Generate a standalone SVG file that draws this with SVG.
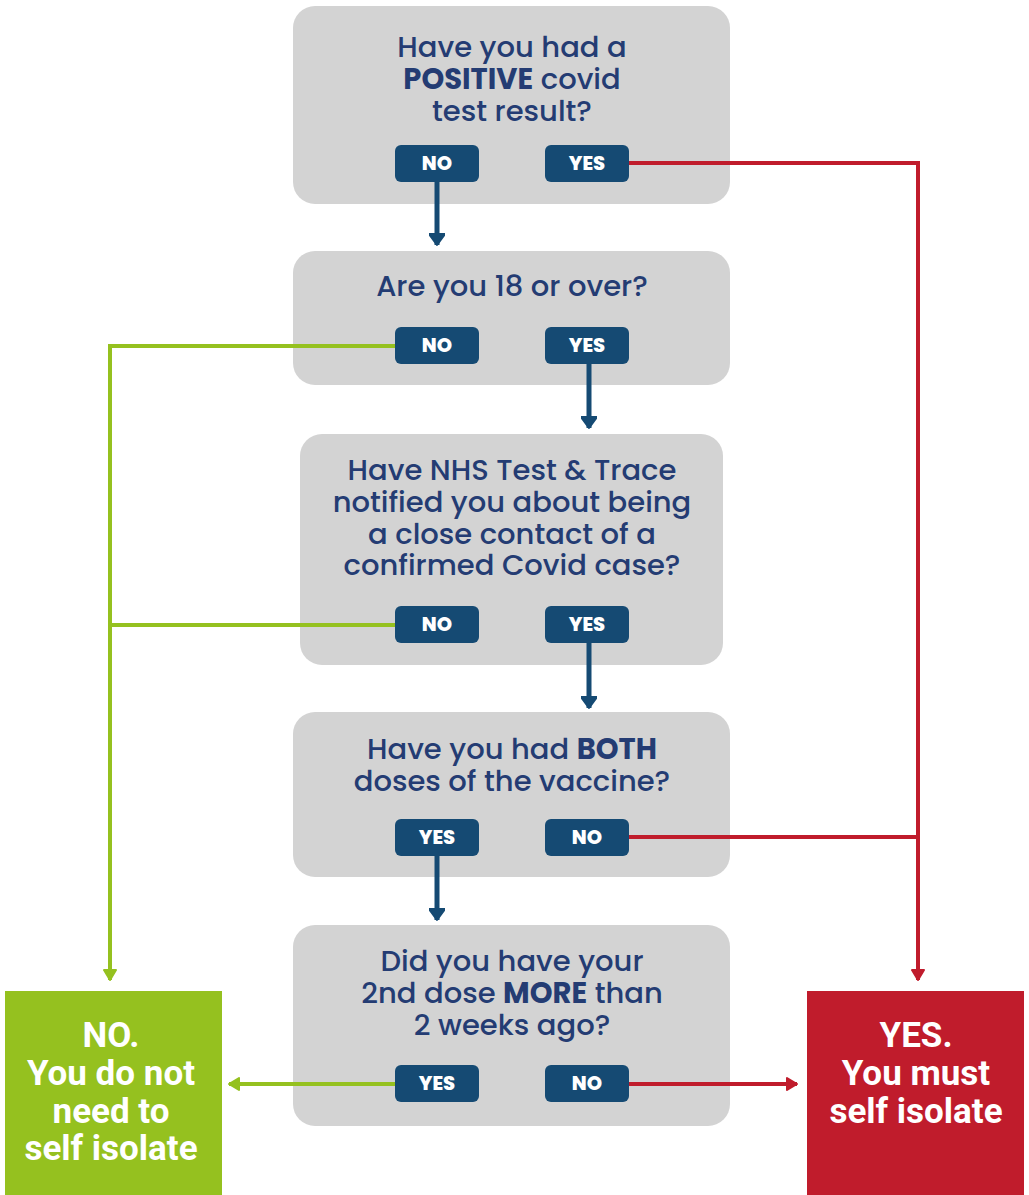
<svg xmlns="http://www.w3.org/2000/svg" width="1029" height="1195" viewBox="0 0 1029 1195">
<style>
.q{fill:#d3d3d3}
.b{fill:#154a73}
.qt{font-family:Poppins,"Noto Sans","Open Sans",sans-serif;font-size:29px;font-weight:500;fill:#243c73;text-anchor:middle}
.qt tspan.s{font-weight:bold}
.bt{font-family:Poppins,"Noto Sans","Open Sans",sans-serif;font-size:19.5px;font-weight:800;fill:#fff;text-anchor:middle}
.rt{font-family:Roboto,"DejaVu Sans",sans-serif;font-size:35px;font-weight:bold;fill:#fff;text-anchor:middle}
.lb{stroke:#154a73;stroke-width:5;fill:none}
.lr{stroke:#c01c2c;stroke-width:4;fill:none}
.lg{stroke:#95c11f;stroke-width:4;fill:none}
</style>
<defs>
<marker id="ab" markerUnits="userSpaceOnUse" markerWidth="20" markerHeight="16" refX="18" refY="8" orient="auto"><path d="M7,0 L18,8 L7,16 Z" fill="#154a73" stroke="#154a73" stroke-width="2" stroke-linejoin="round"/></marker>
<marker id="ar" markerUnits="userSpaceOnUse" markerWidth="20" markerHeight="14" refX="18" refY="7" orient="auto"><path d="M8,1 L18,7 L8,13 Z" fill="#c01c2c" stroke="#c01c2c" stroke-width="2" stroke-linejoin="round"/></marker>
<marker id="ag" markerUnits="userSpaceOnUse" markerWidth="20" markerHeight="14" refX="18" refY="7" orient="auto"><path d="M8,1 L18,7 L8,13 Z" fill="#95c11f" stroke="#95c11f" stroke-width="2" stroke-linejoin="round"/></marker>
</defs>
<rect width="1029" height="1195" fill="#fff"/>

<g id="q1">
<rect class="q" x="293" y="6" width="437" height="198" rx="22"/>
<text class="qt" x="512" y="57">Have you had a</text>
<text class="qt" x="512" y="89"><tspan class="s">POSITIVE</tspan> covid</text>
<text class="qt" x="512" y="121">test result?</text>
<rect class="b" x="395" y="145" width="84" height="37" rx="6"/><text class="bt" x="437" y="170">NO</text>
<rect class="b" x="545" y="145" width="84" height="37" rx="6"/><text class="bt" x="587" y="170">YES</text>
</g>

<g id="q2">
<rect class="q" x="293" y="251" width="437" height="134" rx="22"/>
<text class="qt" x="512" y="296">Are you 18 or over?</text>
<rect class="b" x="395" y="327" width="84" height="37" rx="6"/><text class="bt" x="437" y="352">NO</text>
<rect class="b" x="545" y="327" width="84" height="37" rx="6"/><text class="bt" x="587" y="352">YES</text>
</g>

<g id="q3">
<rect class="q" x="300" y="434" width="423" height="231" rx="22"/>
<text class="qt" x="512" y="480">Have NHS Test &amp; Trace</text>
<text class="qt" x="512" y="512">notified you about being</text>
<text class="qt" x="512" y="544">a close contact of a</text>
<text class="qt" x="512" y="575">confirmed Covid case?</text>
<rect class="b" x="395" y="606" width="84" height="37" rx="6"/><text class="bt" x="437" y="631">NO</text>
<rect class="b" x="545" y="606" width="84" height="37" rx="6"/><text class="bt" x="587" y="631">YES</text>
</g>

<g id="q4">
<rect class="q" x="293" y="712" width="437" height="165" rx="22"/>
<text class="qt" x="512" y="759">Have you had <tspan class="s">BOTH</tspan></text>
<text class="qt" x="512" y="791">doses of the vaccine?</text>
<rect class="b" x="395" y="819" width="84" height="37" rx="6"/><text class="bt" x="437" y="844">YES</text>
<rect class="b" x="545" y="819" width="84" height="37" rx="6"/><text class="bt" x="587" y="844">NO</text>
</g>

<g id="q5">
<rect class="q" x="293" y="925" width="437" height="201" rx="22"/>
<text class="qt" x="512" y="971">Did you have your</text>
<text class="qt" x="512" y="1003">2nd dose <tspan class="s">MORE</tspan> than</text>
<text class="qt" x="512" y="1035">2 weeks ago?</text>
<rect class="b" x="395" y="1065" width="84" height="37" rx="6"/><text class="bt" x="437" y="1090">YES</text>
<rect class="b" x="545" y="1065" width="84" height="37" rx="6"/><text class="bt" x="587" y="1090">NO</text>
</g>

<g id="no-result">
<rect x="5" y="991" width="217" height="204" fill="#95c11f"/>
<text class="rt" x="111" y="1047">NO.</text>
<text class="rt" x="111" y="1085">You do not</text>
<text class="rt" x="111" y="1123">need to</text>
<text class="rt" x="111" y="1160">self isolate</text>
</g>

<g id="yes-result">
<rect x="807" y="991" width="217" height="204" fill="#c01c2c"/>
<text class="rt" x="916" y="1047">YES.</text>
<text class="rt" x="916" y="1085">You must</text>
<text class="rt" x="916" y="1123">self isolate</text>
</g>

<g id="connectors">
<path class="lr" d="M629,163 H918 V980" marker-end="url(#ar)"/>
<path class="lr" d="M629,837 H918"/>
<path class="lr" d="M629,1084 H797" marker-end="url(#ar)"/>
<path class="lg" d="M395,346 H110 V980" marker-end="url(#ag)"/>
<path class="lg" d="M395,625 H110"/>
<path class="lg" d="M395,1084 H229" marker-end="url(#ag)"/>
<path class="lb" d="M437,182 V245" marker-end="url(#ab)"/>
<path class="lb" d="M589,364 V428" marker-end="url(#ab)"/>
<path class="lb" d="M589,643 V708" marker-end="url(#ab)"/>
<path class="lb" d="M437,856 V920" marker-end="url(#ab)"/>
</g>
</svg>
